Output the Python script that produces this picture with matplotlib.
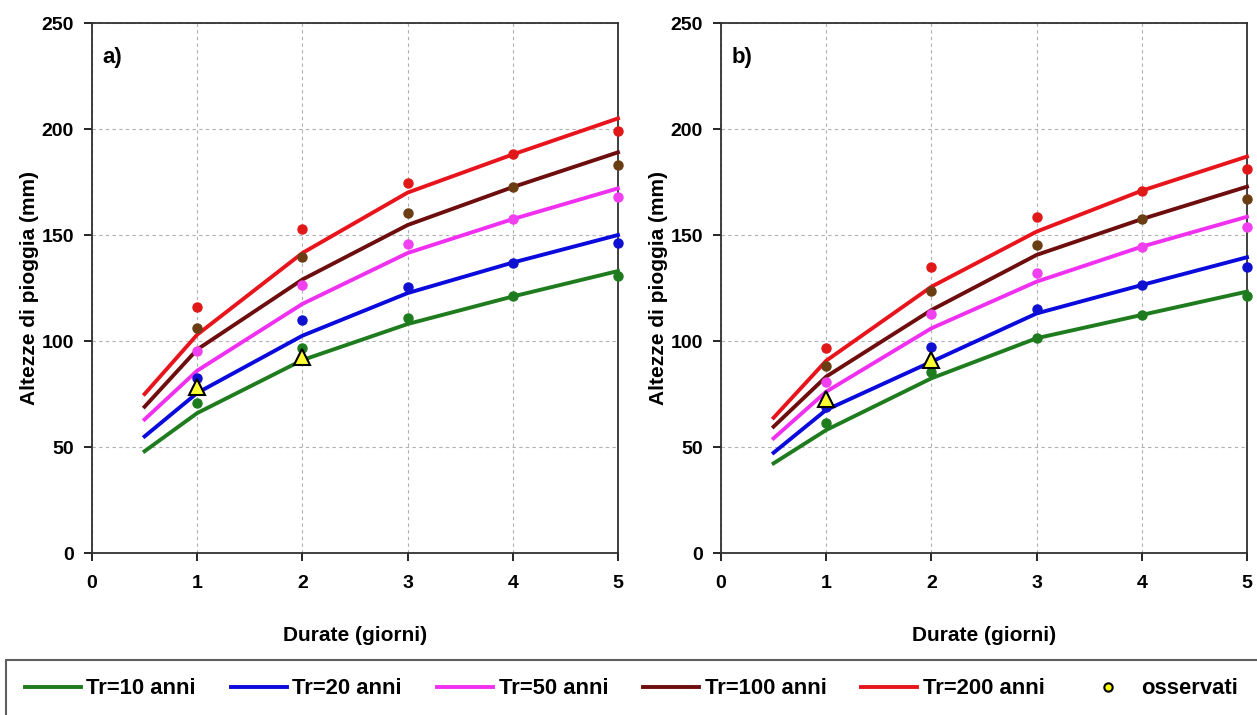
import numpy as np
import matplotlib.pyplot as plt
from matplotlib.lines import Line2D
from matplotlib.patches import Rectangle

plt.rcParams['font.family'] = ['Liberation Sans', 'DejaVu Sans']
plt.rcParams['font.weight'] = 'bold'

# durations (days)
durate_curve = [0.5, 1, 2, 3, 4, 5]
durate_punti = [1, 2, 3, 4, 5]
durate_oss = [1, 2]

labels = ["Tr=10 anni", "Tr=20 anni", "Tr=50 anni", "Tr=100 anni", "Tr=200 anni"]
line_colors = ['#1e7b1e', '#0a0adc', '#f030f0', '#6e0d0d', '#e8141c']
dot_colors = ['#1e7b1e', '#1010d0', '#f040f0', '#6b3d12', '#e01818']

# panel a) - fitted curves
curve_a_10 = [48, 66, 91, 108, 121, 133]
curve_a_20 = [55, 75.5, 102.5, 122.6, 137, 150]
curve_a_50 = [63, 86, 117.5, 141.5, 157.5, 172]
curve_a_100 = [69, 96, 129, 154.7, 172.6, 189]
curve_a_200 = [75, 103, 141.5, 170, 188, 205]

# panel a) - points
punti_a_10 = [70.8, 96.5, 110.8, 121, 130.5]
punti_a_20 = [82.5, 109.7, 125.5, 137, 146]
punti_a_50 = [95.3, 126.4, 145.8, 157.5, 168]
punti_a_100 = [106, 139.6, 160.4, 172.5, 183]
punti_a_200 = [116, 153, 174.5, 188, 199]
oss_a = [78.3, 92.5]

# panel b) - fitted curves
curve_b_10 = [42.3, 58, 82.4, 101.3, 112.3, 123.3]
curve_b_20 = [47.3, 67.5, 90.2, 113, 126.4, 139.5]
curve_b_50 = [54.1, 76.1, 106, 128, 144.5, 158.6]
curve_b_100 = [59.6, 83.2, 114.6, 140.6, 157.5, 172.8]
curve_b_200 = [63.8, 90.7, 125.6, 151.6, 170.9, 187]

# panel b) - points
punti_b_10 = [61.2, 85.5, 101.6, 112.3, 121]
punti_b_20 = [68.7, 97.4, 114.9, 126.4, 135]
punti_b_50 = [80.5, 112.6, 132.2, 144.5, 154]
punti_b_100 = [88.2, 123.7, 145.3, 157.5, 167]
punti_b_200 = [96.5, 135, 158.6, 170.9, 181.1]
oss_b = [72.5, 91]

pannelli = [
    ("a)", [curve_a_10, curve_a_20, curve_a_50, curve_a_100, curve_a_200],
     [punti_a_10, punti_a_20, punti_a_50, punti_a_100, punti_a_200], oss_a),
    ("b)", [curve_b_10, curve_b_20, curve_b_50, curve_b_100, curve_b_200],
     [punti_b_10, punti_b_20, punti_b_50, punti_b_100, punti_b_200], oss_b),
]

W, H = 1257, 715
fig = plt.figure(figsize=(W / 100, H / 100), dpi=100)

lefts = [92, 721]
for (tag, curves, punti, oss), left in zip(pannelli, lefts):
    ax = fig.add_axes([left / W, 1 - 553 / H, 526 / W, 530 / H])

    for c, col in zip(curves, line_colors):
        ax.plot(durate_curve, c, color=col, lw=2.8, zorder=3, clip_on=False)
    for p, col in zip(punti, dot_colors):
        ax.plot(durate_punti, p, 'o', color=col, ms=6.5, zorder=4, clip_on=False)
    ax.plot(durate_oss, oss, '^', color='#ffff33', mec='black', mew=1.5,
            ms=12, zorder=5)

    ax.set_xlim(0, 5)
    ax.set_ylim(0, 250)
    ax.set_xticks(range(0, 6))
    ax.set_yticks(range(0, 251, 50))
    ax.grid(True, color='#b0b0b0', linestyle=(0, (3, 3)), lw=0.8)
    ax.set_axisbelow(True)
    ax.tick_params(labelsize=14, length=6, width=1.2)
    ax.tick_params(axis='x', pad=10)
    ax.tick_params(axis='y', pad=7)
    for s in ax.spines.values():
        s.set_color('#303030')
        s.set_linewidth(1.3)

    ax.set_xlabel("Durate (giorni)", fontsize=15, fontweight='bold', labelpad=24)
    ax.set_ylabel("Altezze di pioggia (mm)", fontsize=15, fontweight='bold', labelpad=2)
    ax.text(0.02, 0.935, tag, transform=ax.transAxes, fontsize=16,
            fontweight='bold', va='center')

handles = [Line2D([], [], color=col, lw=2.8) for col in line_colors]
handles.append(Line2D([], [], ls='none', marker='o', color='#ffff00',
                      mec='black', mew=1.5, ms=6))
fig.legend(handles, labels + ["osservati"], loc='center left',
           bbox_to_anchor=(25 / W, 1 - 689 / H), ncol=6, frameon=False,
           fontsize=15.8, handlelength=2.55, handletextpad=0.25,
           columnspacing=1.6, borderpad=0, borderaxespad=0)

fig.patches.append(Rectangle((6 / W, -0.1), 1.2, 0.1 + (715 - 660) / H,
                             transform=fig.transFigure, fill=False,
                             ec='#606060', lw=1.5))

fig.savefig("out.png", dpi=100)
